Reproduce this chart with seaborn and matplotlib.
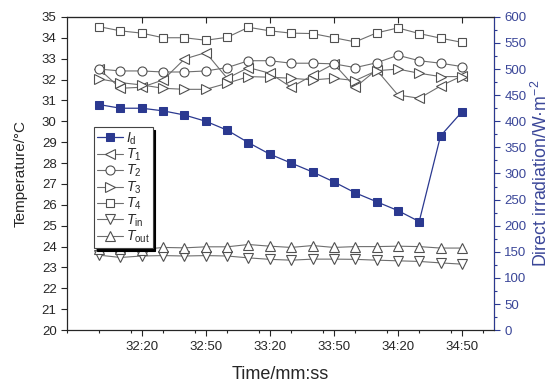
import matplotlib
matplotlib.use("Agg")
import matplotlib.pyplot as plt
import seaborn as sns
import pandas as pd
import numpy as np
from matplotlib.ticker import MultipleLocator, FuncFormatter

sns.set_style("ticks")
plt.rcParams['font.family'] = ['Liberation Sans', 'DejaVu Sans']
plt.rcParams['mathtext.fontset'] = 'custom'
plt.rcParams['mathtext.it'] = 'Liberation Sans:italic'
plt.rcParams['mathtext.rm'] = 'Liberation Sans'

# ---- data ----
time_labels = ["32:00", "32:10", "32:20", "32:30", "32:40", "32:50", "33:00", "33:10", "33:20",
               "33:30", "33:40", "33:50", "34:00", "34:10", "34:20", "34:30", "34:40", "34:50"]
I_d = [432, 425, 425, 420, 412, 400, 383, 359, 337, 320, 303, 284, 263, 246, 229, 208, 372, 418]
T1 = [32.50, 31.58, 31.63, 31.98, 32.98, 33.29, 32.06, 32.57, 32.30, 31.63, 32.20, 32.75,
      31.63, 32.46, 31.26, 31.10, 31.69, 32.17]
T2 = [32.50, 32.41, 32.41, 32.36, 32.36, 32.41, 32.57, 32.90, 32.90, 32.78, 32.78, 32.75,
      32.57, 32.80, 33.16, 32.90, 32.78, 32.62]
T3 = [32.03, 31.85, 31.74, 31.58, 31.53, 31.53, 31.82, 32.14, 32.11, 32.06, 31.98, 32.06,
      31.95, 32.42, 32.50, 32.30, 32.14, 32.14]
T4 = [34.53, 34.33, 34.22, 34.00, 34.00, 33.88, 34.02, 34.50, 34.33, 34.22, 34.20, 34.00,
      33.80, 34.23, 34.47, 34.20, 33.98, 33.78]
T_in = [23.59, 23.48, 23.55, 23.57, 23.55, 23.57, 23.55, 23.46, 23.39, 23.35, 23.40, 23.40,
        23.39, 23.35, 23.32, 23.29, 23.22, 23.16]
T_out = [23.88, 23.88, 23.86, 23.96, 23.94, 23.99, 23.99, 24.10, 24.02, 23.96, 24.05, 23.96,
         24.00, 24.00, 24.02, 24.00, 23.93, 23.93]
xtick_labels = ["32:20", "32:50", "33:20", "33:50", "34:20", "34:50"]


def to_sec(s):
    m, sec = s.split(":")
    return int(m) * 60 + int(sec)


t = [to_sec(s) for s in time_labels]
df = pd.DataFrame({"t": t, "I_d": I_d, "T1": T1, "T2": T2, "T3": T3, "T4": T4,
                   "T_in": T_in, "T_out": T_out})

fig = plt.figure(figsize=(5.5, 3.83), dpi=100)
ax = fig.add_axes([0.122, 0.138, 0.776, 0.818])
ax2 = ax.twinx()

blue = "#2b3990"
blue_txt = "#3a4698"
gray_line = "#6e6e6e"
edge = "#505050"

temp_series = [("T1", "<", 7.5, r"$T_1$"), ("T2", "o", 6.5, r"$T_2$"), ("T3", ">", 7.5, r"$T_3$"),
               ("T4", "s", 5.5, r"$T_4$"), ("T_in", "v", 7.5, r"$T_{\mathrm{in}}$"),
               ("T_out", "^", 7.5, r"$T_{\mathrm{out}}$")]
handles = {}
for col, mk, ms, lab in temp_series:
    sns.lineplot(data=df, x="t", y=col, ax=ax, color=gray_line, lw=0.8, marker=mk,
                 markersize=ms, markerfacecolor="white", markeredgecolor=edge,
                 markeredgewidth=0.8, label=lab, legend=False)
    handles[col] = ax.lines[-1]
    if col == "T4":
        sns.scatterplot(data=df, x="t", y=col, ax=ax, color=edge, s=1.2, linewidth=0,
                        legend=False)

sns.lineplot(data=df, x="t", y="I_d", ax=ax2, color=blue, lw=0.9, marker="s",
             markersize=5.5, markerfacecolor=blue, markeredgecolor=blue, label=r"$I_\mathrm{d}$",
             legend=False)
handles["I_d"] = ax2.lines[-1]

# axes ranges / ticks
ax.set_xlim(to_sec("31:45"), to_sec("35:05"))
ax.set_ylim(20, 35)
ax2.set_ylim(0, 600)
ax.yaxis.set_major_locator(MultipleLocator(1))
ax.set_xticks([to_sec(s) for s in xtick_labels])
ax.set_xticklabels(xtick_labels)
ax.xaxis.set_minor_locator(MultipleLocator(15))
ax2.yaxis.set_major_locator(MultipleLocator(50))
ax2.yaxis.set_minor_locator(MultipleLocator(25))

ax.tick_params(axis="both", which="major", labelsize=9.5, direction="out", length=4, width=0.8)
ax.tick_params(axis="x", which="minor", direction="out", length=2.5, width=0.8)
ax2.tick_params(axis="y", which="major", labelsize=9.5, direction="out", length=4, width=0.8,
                colors=blue, labelcolor=blue_txt)
ax2.tick_params(axis="y", which="minor", direction="out", length=2.5, width=0.8, colors=blue)

# top ticks inward
secx = ax.secondary_xaxis("top")
secx.set_xticks([to_sec(s) for s in xtick_labels])
secx.set_xticklabels([])
secx.tick_params(direction="in", length=4, width=0.8)
ax.tick_params(axis="x", which="both", top=False)

for sp in ax.spines.values():
    sp.set_linewidth(0.8)
    sp.set_color("black")
for sp in ax2.spines.values():
    sp.set_linewidth(0.8)
ax2.spines["right"].set_color(blue)
secx.spines["top"].set_linewidth(0.8)

ax.set_xlabel("Time/mm:ss", fontsize=13, labelpad=10)
ax.set_ylabel("Temperature/°C", fontsize=11, labelpad=10)
ax2.set_ylabel("Direct irradiation/W·m$^{-2}$", fontsize=12.8, color=blue_txt, labelpad=3)

order = ["I_d", "T1", "T2", "T3", "T4", "T_in", "T_out"]
leg = ax2.legend([handles[k] for k in order], [handles[k].get_label() for k in order],
                 loc="upper left", bbox_to_anchor=(0.063, 0.647), fontsize=10,
                 frameon=True, fancybox=False, shadow={"color": "black", "alpha": 1},
                 handlelength=1.9, handletextpad=0.2, labelspacing=0.0, borderpad=0.2,
                 borderaxespad=0, numpoints=1)
leg.get_frame().set_edgecolor("#444444")
leg.get_frame().set_linewidth(0.8)

fig.savefig("out.png", dpi=100)
